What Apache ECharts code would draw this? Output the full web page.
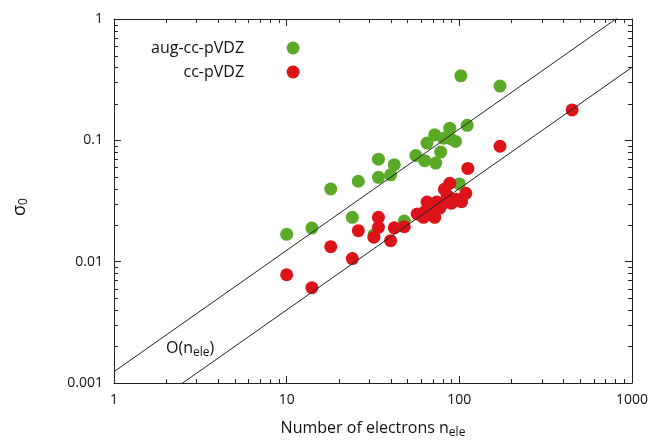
<!DOCTYPE html>
<html>
<head>
<meta charset="utf-8">
<script src="https://cdn.jsdelivr.net/npm/echarts@6/dist/echarts.min.js"></script>
<style>
html,body{margin:0;padding:0;background:#fff;}
#chart{width:655px;height:440px;}
</style>
</head>
<body>
<div id="chart"></div>
<script>
// aug-cc-pVDZ: number of electrons / sigma_0
var augN     = [10, 14, 18, 24, 26, 34, 34, 40, 42, 32, 48, 56, 63, 73, 78, 65, 72, 81, 88, 89, 95, 111, 102, 172, 100];
var augSigma = [0.0168, 0.0189, 0.0397, 0.0232, 0.046, 0.070, 0.0496, 0.052, 0.063, 0.0166, 0.0216, 0.075, 0.068, 0.065, 0.080, 0.095, 0.111, 0.104, 0.126, 0.103, 0.098, 0.133, 0.34, 0.28, 0.0437];

// cc-pVDZ
var ccN     = [10, 14, 18, 24, 26, 32, 34, 34, 40, 42, 48, 57, 62, 63, 65, 71, 72, 74, 77, 81, 82, 85, 88, 90, 96, 103, 109, 112, 172, 450];
var ccSigma = [0.0078, 0.0061, 0.0133, 0.0106, 0.018, 0.0159, 0.0192, 0.0232, 0.0149, 0.019, 0.0194, 0.0247, 0.0232, 0.0258, 0.031, 0.0267, 0.0232, 0.031, 0.0276, 0.0303, 0.0395, 0.035, 0.0443, 0.0303, 0.0327, 0.0312, 0.0366, 0.0587, 0.0894, 0.178];

// O(n_ele) guide lines (end points at n = 1 and n = 1000)
var guideN     = [1, 1000];
var guideUpper = [0.00124, 1.24];
var guideLower = [0.0004, 0.4];

// minor tick positions
var minorN     = [2, 3, 4, 5, 6, 7, 8, 9, 20, 30, 40, 50, 60, 70, 80, 90, 200, 300, 400, 500, 600, 700, 800, 900];
var minorSigma = [0.002, 0.003, 0.004, 0.005, 0.006, 0.007, 0.008, 0.009,
                  0.02, 0.03, 0.04, 0.05, 0.06, 0.07, 0.08, 0.09,
                  0.2, 0.3, 0.4, 0.5, 0.6, 0.7, 0.8, 0.9];

function zip(a, b) {
  return a.map(function (v, i) { return [v, b[i]]; });
}

var FONT = 'Open Sans';
var AXIS = '#222';
var GREEN = '#5aaa28';
var RED = '#dc1419';

var chart = echarts.init(document.getElementById('chart'));

function axisBase(pos, show) {
  var isX = pos === 'bottom' || pos === 'top';
  return {
    type: 'log',
    logBase: 10,
    position: pos,
    min: isX ? 1 : 0.001,
    max: isX ? 1000 : 1,
    axisLine: { show: true, onZero: false, lineStyle: { color: AXIS, width: 1 } },
    axisTick: { show: true, inside: true, length: 7, lineStyle: { color: AXIS, width: 1 } },
    axisLabel: {
      show: show, color: '#111', fontFamily: FONT, fontSize: 14, margin: 10,
      showMinLabel: true, showMaxLabel: true,
      formatter: function (v) { return String(+v.toPrecision(6)); }
    },
    splitLine: { show: false }
  };
}

var xBottom = axisBase('bottom', true);
xBottom.name = '{t|Number of electrons n}{s|ele}';
xBottom.nameLocation = 'middle';
xBottom.nameGap = 34;
xBottom.nameTextStyle = {
  rich: {
    t: { fontFamily: FONT, fontSize: 16, color: '#111' },
    s: { fontFamily: FONT, fontSize: 12, color: '#111', padding: [10, 0, 0, 0] }
  }
};
var xTop = axisBase('top', false);

var yLeft = axisBase('left', true);
yLeft.axisLabel.margin = 11;
yLeft.name = '{t|σ}{s|0}';
yLeft.nameLocation = 'middle';
yLeft.nameRotate = 90;
yLeft.nameGap = 84;
yLeft.nameTextStyle = {
  padding: [0, 12, 0, 0],
  rich: {
    t: { fontFamily: FONT, fontSize: 18, color: '#111' },
    s: { fontFamily: FONT, fontSize: 12, color: '#111', padding: [9, 0, 0, 0] }
  }
};
var yRight = axisBase('right', false);

// minor ticks on all four sides, placed through the axis scales
function minorTicks(isX) {
  return function (params, api) {
    var r = params.coordSys;
    var len = 4;
    var style = { stroke: AXIS, lineWidth: 1 };
    if (isX) {
      var p = api.coord([api.value(0), 0.01]);
      var x = Math.round(p[0]) + 0.5;
      return { type: 'group', children: [
        { type: 'line', shape: { x1: x, y1: r.y + r.height, x2: x, y2: r.y + r.height - len }, style: style },
        { type: 'line', shape: { x1: x, y1: r.y, x2: x, y2: r.y + len }, style: style }
      ] };
    }
    var q = api.coord([10, api.value(1)]);
    var y = Math.round(q[1]) + 0.5;
    return { type: 'group', children: [
      { type: 'line', shape: { x1: r.x, y1: y, x2: r.x + len, y2: y }, style: style },
      { type: 'line', shape: { x1: r.x + r.width, y1: y, x2: r.x + r.width - len, y2: y }, style: style }
    ] };
  };
}

chart.setOption({
  backgroundColor: '#fff',
  animation: false,
  grid: { left: 114, right: 23, top: 19, bottom: 57, containLabel: false, outerBoundsMode: 'none' },
  legend: {
    data: ['aug-cc-pVDZ', 'cc-pVDZ'],
    orient: 'vertical',
    left: 151,
    top: 40,
    padding: 0,
    align: 'right',
    itemWidth: 88,
    itemHeight: 13,
    itemGap: 8,
    textStyle: { fontFamily: FONT, fontSize: 16, color: '#111', width: 100 }
  },
  xAxis: [xBottom, xTop],
  yAxis: [yLeft, yRight],
  graphic: [{
    type: 'text',
    left: 166,
    top: 340,
    style: {
      text: '{t|O(n}{s|ele}{t|)}',
      rich: {
        t: { fontFamily: FONT, fontSize: 16, fill: '#111' },
        s: { fontFamily: FONT, fontSize: 12, fill: '#111', padding: [10, 0, 0, 0] }
      }
    }
  }],
  series: [
    {
      type: 'custom',
      silent: true,
      renderItem: minorTicks(true),
      data: minorN.map(function (v) { return [v, 0.01]; })
    },
    {
      type: 'custom',
      silent: true,
      renderItem: minorTicks(false),
      data: minorSigma.map(function (v) { return [10, v]; })
    },
    {
      name: 'upper',
      type: 'line',
      data: zip(guideN, guideUpper),
      showSymbol: false,
      clip: true,
      silent: true,
      lineStyle: { color: '#222', width: 1 }
    },
    {
      name: 'lower',
      type: 'line',
      data: zip(guideN, guideLower),
      showSymbol: false,
      clip: true,
      silent: true,
      lineStyle: { color: '#222', width: 1 }
    },
    {
      name: 'aug-cc-pVDZ',
      type: 'scatter',
      symbol: 'circle',
      symbolSize: 13,
      itemStyle: { color: GREEN, opacity: 1 },
      data: zip(augN, augSigma)
    },
    {
      name: 'cc-pVDZ',
      type: 'scatter',
      symbol: 'circle',
      symbolSize: 13,
      itemStyle: { color: RED, opacity: 1 },
      data: zip(ccN, ccSigma)
    }
  ]
});
</script>
</body>
</html>
